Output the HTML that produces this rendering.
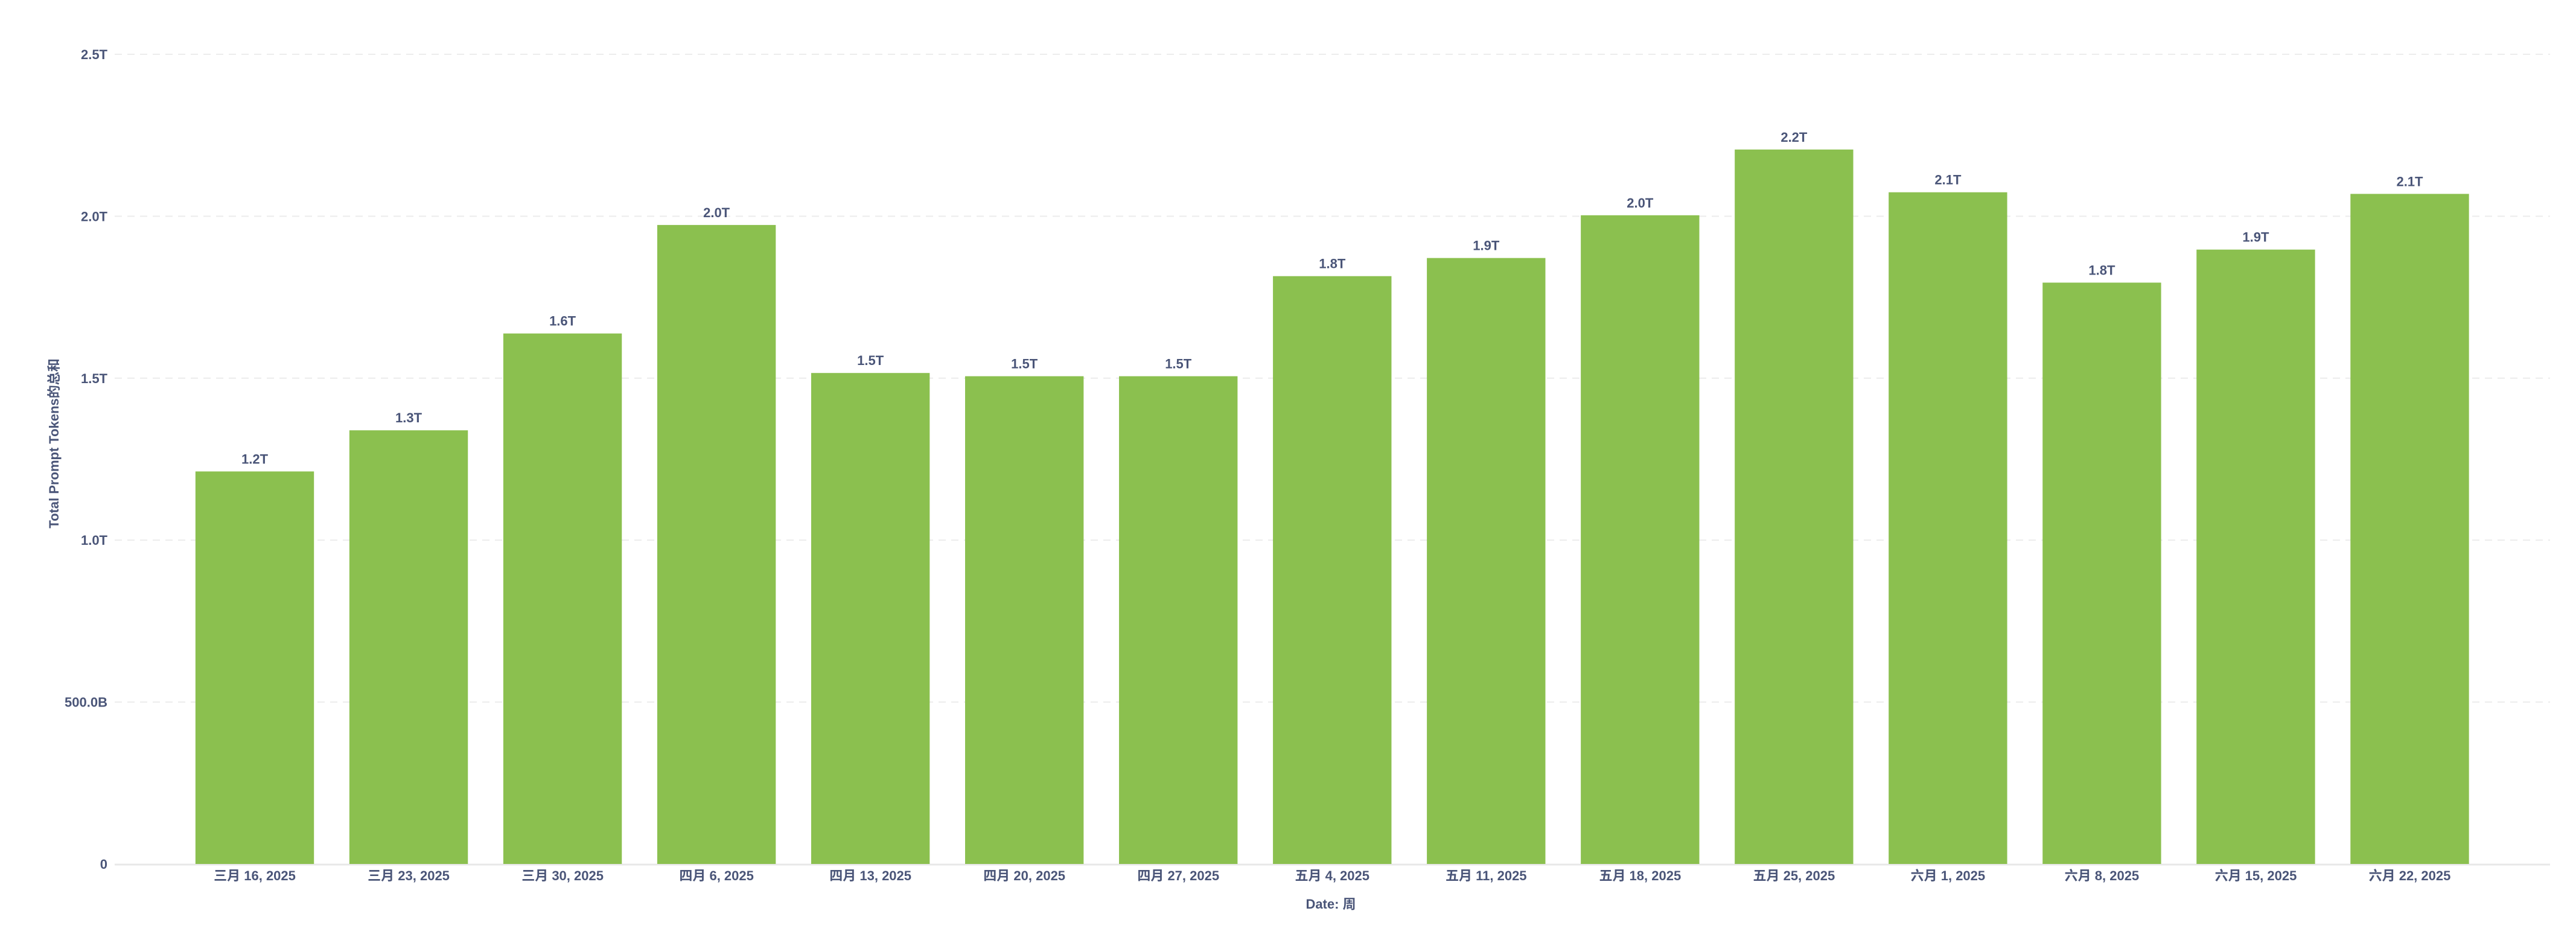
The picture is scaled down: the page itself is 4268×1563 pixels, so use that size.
<!DOCTYPE html>
<html><head><meta charset="utf-8"><style>
html,body{margin:0;padding:0;background:#fff;}
svg text{font-family:"Liberation Sans","Noto Sans CJK SC",sans-serif;font-weight:bold;fill:#4a5578;}
</style></head><body>
<svg id="chart" width="4268" height="1558" viewBox="0 0 4268 1558" xmlns="http://www.w3.org/2000/svg">
<g id="grid"></g>
<g id="yticks"></g>
<g id="bars"></g>
<g id="xticks"></g>
<text x="0" y="0" font-size="22" text-anchor="middle" transform="translate(97,735) rotate(-90)">Total Prompt Tokens的总和</text>
<text x="2205" y="1506" font-size="22" text-anchor="middle">Date: 周</text>
</svg>
<script>
const categories = ["三月 16, 2025","三月 23, 2025","三月 30, 2025","四月 6, 2025","四月 13, 2025","四月 20, 2025","四月 27, 2025","五月 4, 2025","五月 11, 2025","五月 18, 2025","五月 25, 2025","六月 1, 2025","六月 8, 2025","六月 15, 2025","六月 22, 2025"];
const values = [1.212,1.339,1.638,1.973,1.516,1.506,1.506,1.815,1.871,2.003,2.206,2.074,1.795,1.897,2.069];
const tickValues = [0,0.5,1.0,1.5,2.0,2.5];
const tickLabels = ["0","500.0B","1.0T","1.5T","2.0T","2.5T"];

const NS="http://www.w3.org/2000/svg";
const y0=1432, yTop=90, yMax=2.5;
function yScale(v){return y0-(v/yMax)*(y0-yTop);}
const bandStart=294.5, bandEnd=4120;
const step=(bandEnd-bandStart)/categories.length;
function xCenter(i){return bandStart+step*(i+0.5);}
const barW=step*0.77;
function mk(tag,attrs,parent){const e=document.createElementNS(NS,tag);for(const k in attrs)e.setAttribute(k,attrs[k]);parent.appendChild(e);return e;}
const grid=document.getElementById('grid'),yt=document.getElementById('yticks'),bars=document.getElementById('bars'),xt=document.getElementById('xticks');
tickValues.forEach((v,i)=>{
  const y=yScale(v);
  let l;
  if(v===0){l=mk('line',{x1:190,x2:4225,y1:y+1,y2:y+1,stroke:'#e8e8e8','stroke-width':3},grid);}
  else{l=mk('line',{x1:190,x2:4225,y1:y,y2:y,stroke:'#ececec','stroke-width':2,'stroke-dasharray':'12,9'},grid);}
  
  
  const t=mk('text',{x:178,y:y+8,'font-size':22,'text-anchor':'end'},yt);
  t.textContent=tickLabels[i];
  
  
});
values.forEach((v,i)=>{
  const cx=xCenter(i),y=yScale(v);
  const r=mk('rect',{x:cx-barW/2,y:y,width:barW,height:y0-y,fill:'#8bc04f'},bars);
  
  
  const lb=mk('text',{x:cx,y:y-13,'font-size':22,'text-anchor':'middle'},bars);
  lb.textContent=(Math.round(v*10)/10).toFixed(1)+'T';
  
  
  const xl=mk('text',{x:cx,y:1459,'font-size':22,'text-anchor':'middle'},xt);
  xl.textContent=categories[i];
  
  
});
</script>
</body></html>
